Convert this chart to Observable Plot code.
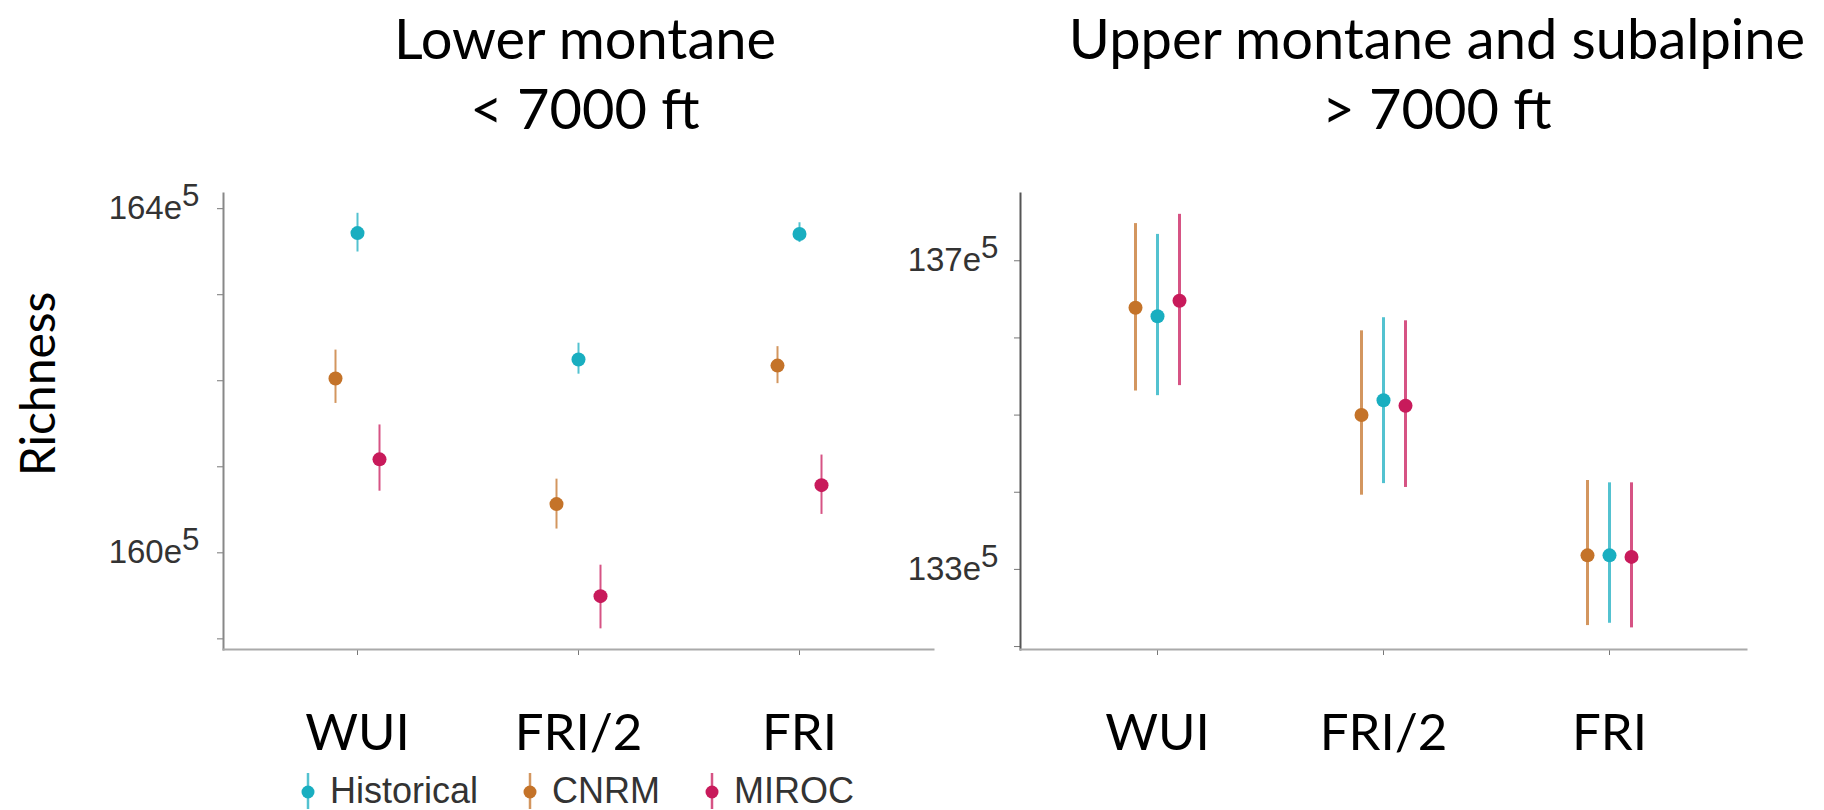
<!DOCTYPE html>
<html>
<head>
<meta charset="utf-8">
<script src="https://cdn.jsdelivr.net/npm/d3@7"></script>
<script src="https://cdn.jsdelivr.net/npm/@observablehq/plot@0.6"></script>
<style>
  body { margin: 0; background: #fff; }
  #chart { position: relative; width: 1824px; height: 810px; overflow: hidden; background: #fff; }
  .panel { position: absolute; top: 0; }
  .title { position: absolute; font-family: Lato, sans-serif; font-size: 56px; line-height: 70px;
           color: #000; white-space: nowrap; text-align: center; transform: translateX(-50%); }
  .ylab { position: absolute; font-family: Lato, sans-serif; font-size: 48px; color: #000;
          white-space: nowrap; transform: translate(-50%, -50%) rotate(-90deg); }
  #legend { position: absolute; top: 770px; left: 300px; display: flex; align-items: center;
            font-family: "Liberation Sans", Arial, sans-serif; font-size: 36px; color: #333; }
  #legend .item { display: flex; align-items: center; margin-right: 44px; }
  #legend svg { margin-right: 14px; }
</style>
</head>
<body>
<div id="chart"></div>
<script>
// Treatments shown along each x axis, and the climate series drawn at each one
const categories = ["WUI", "FRI/2", "FRI"];
const series = ["Historical", "CNRM", "MIROC"];
const seriesColors = ["#19aec0", "#c47329", "#c81a5b"];

// Lower montane (< 7000 ft): rows = series (Historical, CNRM, MIROC), columns = categories
const lowerMean = [
  [163.67, 162.20, 163.66],
  [161.98, 160.52, 162.13],
  [161.04, 159.45, 160.74]
];
const lowerLow = [
  [163.45, 162.03, 163.56],
  [161.69, 160.23, 161.92],
  [160.67, 159.07, 160.40]
];
const lowerHigh = [
  [163.90, 162.39, 163.79],
  [162.31, 160.81, 162.35],
  [161.44, 159.81, 161.09]
];

// Upper montane and subalpine (> 7000 ft)
const upperMean = [
  [136.23, 135.14, 133.13],
  [136.34, 134.95, 133.13],
  [136.43, 135.07, 133.11]
];
const upperLow = [
  [135.20, 134.06, 132.25],
  [135.26, 133.91, 132.22],
  [135.33, 134.01, 132.19]
];
const upperHigh = [
  [137.29, 136.21, 134.07],
  [137.43, 136.04, 134.10],
  [137.55, 136.17, 134.07]
];

// Y tick positions and which of them carry a label
const lowerTicks = [159, 160, 161, 162, 163, 164];
const lowerTickLabels = [160, 164];
const upperTicks = [132, 133, 134, 135, 136, 137];
const upperTickLabels = [133, 137];

// Horizontal slot of each series within a category (CNRM left, Historical centre, MIROC right)
const slot = {CNRM: -1, Historical: 0, MIROC: 1};
const slotWidth = 22;

function rowsFor(mean, low, high) {
  const rows = [];
  series.forEach((s, i) => categories.forEach((c, j) => {
    rows.push({series: s, category: c, mean: mean[i][j], low: low[i][j], high: high[i][j]});
  }));
  return rows;
}

// Turn "164e5" into "164e" + raised "5"
function superscriptExponent(svg) {
  svg.querySelectorAll('[aria-label="y-axis tick label"] text').forEach(t => {
    const s = t.textContent;
    if (s.endsWith("e5")) {
      t.textContent = s.slice(0, -1);
      const ts = document.createElementNS("http://www.w3.org/2000/svg", "tspan");
      ts.setAttribute("dy", "-0.42em");
      ts.setAttribute("font-size", "0.95em");
      ts.textContent = "5";
      t.appendChild(ts);
    }
  });
}

function panel({mean, low, high, domain, ticks, tickLabels, width, marginLeft, marginRight,
                barWidth, yAxisStroke, xAxisStroke, tickPadding}) {
  const rows = rowsFor(mean, low, high);
  const marks = [];
  for (const s of series) {
    const d = rows.filter(r => r.series === s);
    const dx = slot[s] * slotWidth;
    marks.push(Plot.ruleX(d, {x: "category", y1: "low", y2: "high", stroke: "series",
                              strokeWidth: barWidth, strokeOpacity: 0.75, dx}));
    marks.push(Plot.dot(d, {x: "category", y: "mean", fill: "series", r: 7, dx}));
  }
  const svg = Plot.plot({
    width, height: 810,
    marginTop: 193, marginBottom: 161, marginLeft, marginRight,
    style: {background: "transparent", overflow: "visible"},
    x: {type: "point", domain: categories, padding: 0.6, label: null},
    y: {domain, label: null},
    color: {domain: series, range: seriesColors},
    marks: [
      Plot.axisY({ticks, tickSize: 6, tickPadding, stroke: "#777", fill: "#333",
                  fontSize: 33, fontFamily: "'Liberation Sans', Arial, sans-serif", dy: 4,
                  tickFormat: d => tickLabels.includes(d) ? `${d}e5` : "", label: null}),
      Plot.axisX({tickSize: 6, tickPadding: 58, stroke: "#777", fill: "#000",
                  fontSize: 51, fontFamily: "Lato, sans-serif", label: null}),
      Plot.frame({anchor: "left", stroke: yAxisStroke, strokeWidth: 2}),
      Plot.frame({anchor: "bottom", stroke: xAxisStroke, strokeWidth: 2}),
      ...marks
    ]
  });
  superscriptExponent(svg);
  return svg;
}

const chart = document.getElementById("chart");

const left = panel({
  mean: lowerMean, low: lowerLow, high: lowerHigh,
  domain: [158.83, 164.13], ticks: lowerTicks, tickLabels: lowerTickLabels,
  width: 960, marginLeft: 223, marginRight: 27, barWidth: 2,
  yAxisStroke: "#888", xAxisStroke: "#aaa", tickPadding: 18
});
left.classList.add("panel");
left.style.left = "0px";
chart.appendChild(left);

const right = panel({
  mean: upperMean, low: upperLow, high: upperHigh,
  domain: [131.91, 137.82], ticks: upperTicks, tickLabels: upperTickLabels,
  width: 964, marginLeft: 160, marginRight: 78, barWidth: 3,
  yAxisStroke: "#555", xAxisStroke: "#aaa", tickPadding: 16
});
right.classList.add("panel");
right.style.left = "860px";
chart.appendChild(right);

// Panel titles
function addTitle(lines, cx) {
  const div = document.createElement("div");
  div.className = "title";
  div.style.left = cx + "px";
  div.style.top = "3px";
  div.innerHTML = lines.join("<br>");
  chart.appendChild(div);
}
addTitle(["Lower montane", "&lt; 7000 ft"], 585);
addTitle(["Upper montane and subalpine", "&gt; 7000 ft"], 1437);

// Y axis title
const ylab = document.createElement("div");
ylab.className = "ylab";
ylab.style.left = "36px";
ylab.style.top = "384px";
ylab.textContent = "Richness";
chart.appendChild(ylab);

// Legend: dot with a vertical range line in each series colour
const legend = document.createElement("div");
legend.id = "legend";
series.forEach((s, i) => {
  const item = document.createElement("div");
  item.className = "item";
  item.innerHTML =
    `<svg width="16" height="40" viewBox="0 0 16 40">
       <line x1="8" x2="8" y1="2" y2="38" stroke="${seriesColors[i]}" stroke-width="2.5" stroke-opacity="0.75"/>
       <circle cx="8" cy="21" r="6.5" fill="${seriesColors[i]}"/>
     </svg><span>${s}</span>`;
  legend.appendChild(item);
});
chart.appendChild(legend);
</script>
</body>
</html>
